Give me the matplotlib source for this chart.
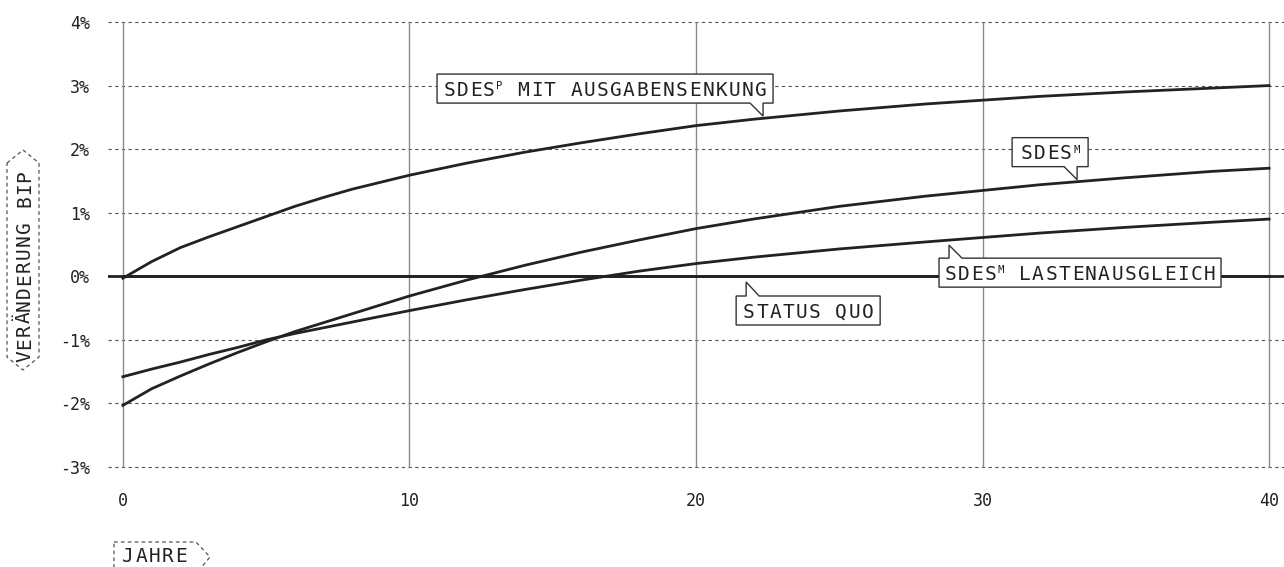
import numpy as np
import matplotlib
matplotlib.use("Agg")
import matplotlib.pyplot as plt
from matplotlib.patches import Polygon
from matplotlib.transforms import IdentityTransform

# ===================== 数据 =====================
years = [0, 1, 2, 3, 4, 5, 6, 7, 8, 9, 10, 12, 14, 16, 18, 20, 22, 25, 28, 30, 32, 35, 38, 40]

# SDES^P mit Ausgabensenkung
sdes_p = [-0.03, 0.23, 0.45, 0.62, 0.78, 0.94, 1.10, 1.24, 1.37, 1.48, 1.59, 1.78, 1.95,
          2.10, 2.24, 2.37, 2.47, 2.60, 2.71, 2.77, 2.83, 2.90, 2.96, 3.00]
# SDES^M
sdes_m = [-2.03, -1.77, -1.57, -1.38, -1.20, -1.03, -0.87, -0.73, -0.59, -0.45, -0.31, -0.06,
          0.17, 0.38, 0.57, 0.75, 0.90, 1.10, 1.26, 1.35, 1.44, 1.55, 1.65, 1.70]
# SDES^M Lastenausgleich
sdes_m_la = [-1.58, -1.46, -1.35, -1.23, -1.12, -1.00, -0.90, -0.81, -0.72, -0.63, -0.54,
             -0.37, -0.21, -0.06, 0.08, 0.20, 0.30, 0.43, 0.54, 0.61, 0.68, 0.77, 0.85, 0.90]
# Status quo
status_quo = [0.0] * len(years)

x_ticks = [0, 10, 20, 30, 40]
y_ticks = [-3, -2, -1, 0, 1, 2, 3, 4]

INK = "#222222"
GRID = "#555555"
VGRID = "#8a8a8a"
MONO = "DejaVu Sans Mono"

plt.rcParams["font.family"] = [MONO, "DejaVu Sans"]
plt.rcParams["axes.unicode_minus"] = False

W, H = 1284, 567
fig = plt.figure(figsize=(W / 100, H / 100), dpi=100)
ax = fig.add_axes([108 / W, 1 - 467 / H, (W - 108) / W, 445 / H])
ax.set_xlim(-0.52, 40.52)
ax.set_ylim(-3, 4)
for s in ax.spines.values():
    s.set_visible(False)

# ===================== 网格 =====================
for v in y_ticks:
    if v == 0:
        continue
    ax.axhline(v, color=GRID, lw=0.8, dashes=(3, 3), clip_on=False, zorder=1)
ax.vlines(x_ticks, -3, 4, color=VGRID, lw=1.0, clip_on=False, zorder=1)
ax.axhline(0, color=INK, lw=2.0, zorder=2)

# ===================== 曲线 =====================
for series in (sdes_p, sdes_m, sdes_m_la, status_quo):
    ax.plot(years, series, color=INK, lw=2.0, solid_joinstyle="round", zorder=3)

ax.set_xticks(x_ticks)
ax.set_yticks(y_ticks)
ax.set_xticklabels([str(v) for v in x_ticks])
ax.set_yticklabels([f"{v}%" for v in y_ticks])
ax.tick_params(axis="both", length=0, labelsize=12, colors=INK)
ax.tick_params(axis="y", pad=13)
ax.tick_params(axis="x", pad=18)


# ===================== 文字工具（等宽字体 + 字距） =====================
def tracked_text(cx, cy, parts, size=14, pitch=13.2, rotation=0):
    """在像素坐标 (左下原点) 以中心 cx, cy 逐字绘制文字，parts=[(文本, 是否上标)]"""
    px = size * 100 / 72
    cap = 0.729 * px
    chars = []
    for s, sup in parts:
        for ch in s:
            chars.append((ch, sup, pitch * (0.62 if sup else 1.0)))
    glyph = 0.602 * px
    total = sum(a for _, _, a in chars) - (pitch - glyph)
    th = np.deg2rad(rotation)
    d = np.array([np.cos(th), np.sin(th)])
    u = np.array([-np.sin(th), np.cos(th)])
    c = np.array([cx, cy])
    pos = -total / 2
    for ch, sup, a in chars:
        if sup:
            rise = cap / 2 - 0.729 * px * 0.55
            fs = size * 0.55
        else:
            rise = -cap / 2
            fs = size
        p = c + d * pos + u * rise
        fig.text(p[0], p[1], ch, transform=IdentityTransform(), fontsize=fs,
                 ha="left", va="baseline", rotation=rotation,
                 rotation_mode="anchor", color=INK, family=MONO, zorder=10)
        pos += a


def callout(tip, left, right, near, far, parts, tail_w=13):
    """带尖角的标注框；tip 为数据坐标，其余为相对尖端的像素偏移"""
    tx, ty = ax.transData.transform(tip)
    if near > 0:  # 框在尖端上方，尖角在框底部右侧
        b, t = ty + near, ty + far
        pts = [(tx + left, t), (tx + right, t), (tx + right, b), (tx, b),
               (tx, ty), (tx - tail_w, b), (tx + left, b)]
    else:  # 框在尖端下方，尖角在框顶部左侧
        t, b = ty + near, ty + far
        pts = [(tx + left, t), (tx, t), (tx, ty), (tx + tail_w, t),
               (tx + right, t), (tx + right, b), (tx + left, b)]
    fig.add_artist(Polygon(pts, closed=True, transform=IdentityTransform(),
                           facecolor="white", edgecolor="#333333", lw=1.0, zorder=5))
    tracked_text(tx + (left + right) / 2, (t + b) / 2, parts)


callout((22.34, 2.52), -326, 10, 13, 42,
        [("SDES", False), ("P", True), (" MIT AUSGABENSENKUNG", False)])
callout((33.30, 1.52), -65, 11, 13, 42, [("SDES", False), ("M", True)])
callout((28.83, 0.49), -10, 272, -13, -42,
        [("SDES", False), ("M", True), (" LASTENAUSGLEICH", False)])
callout((21.75, -0.09), -10, 134, -14, -43, [("STATUS QUO", False)])


# ===================== 坐标轴标题（虚线框） =====================
def img(pts):
    return [(x, H - y) for x, y in pts]


ylab_shape = img([(7, 163), (23, 150), (39, 163), (39, 357), (23, 370), (7, 357)])
fig.add_artist(Polygon(ylab_shape, closed=True, transform=IdentityTransform(),
                       facecolor="none", edgecolor=GRID, lw=0.9, ls=(0, (3, 2.5))))
tracked_text(23, H - 266, [("VERÄNDERUNG BIP", False)], rotation=90, pitch=12.9)

xlab_shape = img([(114, 542), (196, 542), (210, 557), (196, 574), (114, 574)])
fig.add_artist(Polygon(xlab_shape, closed=True, transform=IdentityTransform(),
                       facecolor="none", edgecolor=GRID, lw=0.9, ls=(0, (3, 2.5))))
tracked_text(154.5, H - 555, [("JAHRE", False)], pitch=13.2)

fig.savefig("out.png", dpi=100)
